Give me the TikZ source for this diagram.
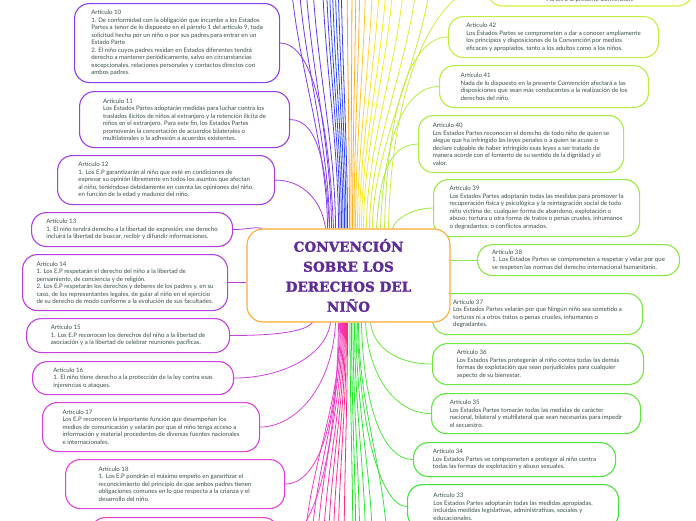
\documentclass[tikz,border=0pt]{standalone}
\usepackage{fontspec}
\newfontfamily\artfont{Lato}
\newfontfamily\titlefont{DejaVu Serif}[BoldFeatures={FakeBold=1.6}]
\usetikzlibrary{calc}

\definecolor{txt}{HTML}{3A5048}
\definecolor{ttl}{HTML}{5E2B97}
\definecolor{ctrline}{HTML}{FFAA33}
% left branch
\definecolor{c10}{HTML}{8A3FF2}
\definecolor{c11}{HTML}{9B3FEA}
\definecolor{c12}{HTML}{A63FE6}
\definecolor{c13}{HTML}{B040E6}
\definecolor{c14}{HTML}{B740E4}
\definecolor{c15}{HTML}{C440E2}
\definecolor{c16}{HTML}{CE40E0}
\definecolor{c17}{HTML}{DC40DC}
\definecolor{c18}{HTML}{E840D6}
\definecolor{c19}{HTML}{EE40CC}
% right branch
\definecolor{c43}{HTML}{CFF03A}
\definecolor{c42}{HTML}{C2EE40}
\definecolor{c41}{HTML}{B4EE40}
\definecolor{c40}{HTML}{A8EC40}
\definecolor{c39}{HTML}{98EA40}
\definecolor{c38}{HTML}{8AE840}
\definecolor{c37}{HTML}{7AE840}
\definecolor{c36}{HTML}{6CE840}
\definecolor{c35}{HTML}{5CE83C}
\definecolor{c34}{HTML}{4CE63C}
\definecolor{c33}{HTML}{40E43C}

\pgfdeclarelayer{bg}
\pgfsetlayers{bg,main}

\begin{document}
\begin{tikzpicture}[x=1pt, y=-1pt,
    art/.style={draw, fill=white, line width=1.1pt, rounded corners=15pt, anchor=north west, align=left, text=txt, font=\artfont\fontsize{6.1}{7.5}\selectfont},
    lk/.style={line width=0.8pt},
    title/.style={draw=ctrline, fill=white, line width=1.1pt, rounded corners=16pt, minimum width=203pt, minimum height=93pt, align=center, text=ttl, font=\titlefont\bfseries\fontsize{13.6}{20}\selectfont}
]
    \useasboundingbox (0,0) rectangle (696,520);
    \clip (0,0) rectangle (696,520);

    % Left side
    \node[art, draw=c10, minimum width=205pt, minimum height=79pt] (a10) at (74,3) {Artículo 10\\1. De conformidad con la obligación que incumbe a los Estados\\Partes a tenor de lo dispuesto en el párrafo 1 del artículo 9, toda\\solicitud hecha por un niño o por sus padres para entrar en un\\Estado Parte\\2. El niño cuyos padres residan en Estados diferentes tendrá\\derecho a mantener periódicamente, salvo en circunstancias\\excepcionales, relaciones personales y contactos directos con\\ambos padres.};
    \node[art, draw=c11, minimum width=210pt, minimum height=56pt] (a11) at (79,91) {Artículo 11\\Los Estados Partes adoptarán medidas para luchar contra los\\traslados ilícitos de niños al extranjero y la retención ilícita de\\niños en el extranjero. Para este fin, los Estados Partes\\promoverán la concertación de acuerdos bilaterales o\\multilaterales o la adhesión a acuerdos existentes.};
    \node[art, draw=c12, minimum width=217pt, minimum height=49pt] (a12) at (57,155) {Artículo 12\\1. Los E.P garantizarán al niño que esté en condiciones de\\expresar su opinión libremente en todos los asuntos que afectan\\al niño, teniéndose debidamente en cuenta las opiniones del niño,\\en función de la edad y madurez del niño.};
    \node[art, draw=c13, minimum width=201pt, minimum height=34pt] (a13) at (31,212) {Artículo 13\\1. El niño tendrá derecho a la libertad de expresión; ese derecho\\incluirá la libertad de buscar, recibir y difundir informaciones.};
    \node[art, draw=c14, minimum width=205pt, minimum height=56pt] (a14) at (22,254) {Artículo 14\\1. Los E.P respetarán el derecho del niño a la libertad de\\pensamiento, de conciencia y de religión.\\2. Los E.P respetarán los derechos y deberes de los padres y, en su\\caso, de los representantes legales, de guiar al niño en el ejercicio\\de su derecho de modo conforme a la evolución de sus facultades.};
    \node[art, draw=c15, minimum width=203pt, minimum height=34pt] (a15) at (26,318) {Artículo 15\\1. Los E.P reconocen los derechos del niño a la libertad de\\asociación y a la libertad de celebrar reuniones pacíficas.};
    \node[art, draw=c16, minimum width=201pt, minimum height=33pt] (a16) at (32,361) {Artículo 16\\1. El niño tiene derecho a la protección de la ley contra esas\\injerencias o ataques.};
    \node[art, draw=c17, minimum width=217pt, minimum height=49pt] (a17) at (42,402) {Artículo 17\\Los E.P reconocen la importante función que desempeñan los\\medios de comunicación y velarán por que el niño tenga acceso a\\información y material procedentes de diversas fuentes nacionales\\e internacionales.};
    \node[art, draw=c18, minimum width=219pt, minimum height=49pt] (a18) at (65,459) {Artículo 18\\1. Los E.P pondrán el máximo empeño en garantizar el\\reconocimiento del principio de que ambos padres tienen\\obligaciones comunes en lo que respecta a la crianza y el\\desarrollo del niño.};
    \node[art, draw=c19, minimum width=188pt, minimum height=50pt] (a19) at (90,517) {};

    % Right side
    \node[art, draw=c43, minimum width=205pt] (a43) at (487,-37) {\strut\\[22pt]Partes a la presente Convención.};
    \node[art, draw=c42, minimum width=210pt, minimum height=41pt] (a42) at (448,16) {Artículo 42\\Los Estados Partes se comprometen a dar a conocer ampliamente\\los principios y disposiciones de la Convención por medios\\eficaces y apropiados, tanto a los adultos como a los niños.};
    \node[art, draw=c41, minimum width=209pt, minimum height=42pt] (a41) at (439,65) {Artículo 41\\Nada de lo dispuesto en la presente Convención afectará a las\\disposiciones que sean más conducentes a la realización de los\\derechos del niño.};
    \node[art, draw=c40, minimum width=205pt, minimum height=57pt] (a40) at (418,115) {Artículo 40\\Los Estados Partes reconocen el derecho de todo niño de quien se\\alegue que ha infringido las leyes penales o a quien se acuse o\\declare culpable de haber infringido esas leyes a ser tratado de\\manera acorde con el fomento de su sentido de la dignidad y el\\valor.};
    \node[art, draw=c39, minimum width=206pt, minimum height=57pt] (a39) at (433,179) {Artículo 39\\Los Estados Partes adoptarán todas las medidas para promover la\\recuperación física y psicológica y la reintegración social de todo\\niño víctima de: cualquier forma de abandono, explotación o\\abuso; tortura u otra forma de tratos o penas crueles, inhumanos\\o degradantes; o conflictos armados.};
    \node[art, draw=c38, minimum width=202pt, minimum height=31pt] (a38) at (477,244) {Artículo 38\\1. Los Estados Partes se comprometen a respetar y velar por que\\se respeten las normas del derecho internacional humanitario.};
    \node[art, draw=c37, minimum width=210pt, minimum height=41pt] (a37) at (432,293) {Artículo 37\\Los Estados Partes velarán por que Ningún niño sea sometido a\\torturas ni a otros tratos o penas crueles, inhumanos o\\degradantes.};
    \node[art, draw=c36, minimum width=211pt, minimum height=41pt] (a36) at (432,343) {Artículo 36\\Los Estados Partes protegerán al niño contra todas las demás\\formas de explotación que sean perjudiciales para cualquier\\aspecto de su bienestar.};
    \node[art, draw=c35, minimum width=209pt, minimum height=40pt] (a35) at (431,393) {Artículo 35\\Los Estados Partes tomarán todas las medidas de carácter\\nacional, bilateral y multilateral que sean necesarias para impedir\\el secuestro.};
    \node[art, draw=c34, minimum width=202pt, minimum height=34pt] (a34) at (413,442) {Artículo 34\\Los Estados Partes se comprometen a proteger al niño contra\\todas las formas de explotación y abuso sexuales.};
    \node[art, draw=c33, minimum width=211pt, minimum height=44pt] (a33) at (407,484) {Artículo 33\\Los Estados Partes adoptarán todas las medidas apropiadas,\\incluidas medidas legislativas, administrativas, sociales y\\educacionales.};

    % Central topic
    \node[title] (ctr) at (348.5,275.5) {CONVENCIÓN\\SOBRE LOS\\DERECHOS DEL\\NIÑO};

    % Connectors
    \begin{pgfonlayer}{bg}
    \begin{scope}
    \clip (0,0) rectangle (696,520);
    \fill[white] (0,0) rectangle (696,520);

    % branches leaving the picture upwards
    \foreach \s/\e/\h [count=\i] in {-21/290/7B3BF0, -19/298/723CF2, -17/305/6A3DF4, -13/312/5F3EF6,
        -10/322/4B40F8, -8.5/326/3C42FA, -7/329/3046FA, -5.5/332/2A48FA, -4/335/2848F6, -2.5/338/2D44F2, -1/341/3340EE,
        1/347/FF9A1F, 2.5/352/FFA41F, 4/356/FFAE1F, 5.5/360/FFB81F,
        7/366/FFC81F, 9/373/FFD81F, 11/380/FFE41F, 13/387/FCEC1F, 15/394/F2F020,
        18/405/E4F026, 21/418/DAF02C, 24/432/D0F032}{
        \definecolor{fan}{HTML}{\h}
        \coordinate (up\i) at (\e,-45);
        \draw[lk, fan] ($(ctr.north)+(\s,0)$) .. controls +(0,-90) and +(0,90) .. (up\i);
    }
    % branches leaving the picture downwards
    \foreach \s/\e/\h [count=\i] in {-8/304/EE3FC6, -7/311/F13CBC, -6/317/F439B2, -5/323/F736A8,
        -4/328/F9339C, -3/333/FB3090, -2/338/FD2D86, -1/344/FF2A7C,
        1.5/353/1EE21E, 3/356/22E424, 4.5/360/26E62A, 6/366/2AE630, 7.5/373/2EE836, 10/388/34E83C}{
        \definecolor{fan}{HTML}{\h}
        \coordinate (dn\i) at (\e,565);
        \draw[lk, fan] ($(ctr.south)+(\s,0)$) .. controls +(0,90) and +(0,-90) .. (dn\i);
    }

    % left articles
    \draw[lk, c10] ($(ctr.north)+(-15,0)$) .. controls +(-4,-95) and +(35,0) .. (a10.east);
    \draw[lk, c11] ($(ctr.north)+(-19,0)$) .. controls +(-3,-55) and +(30,0) .. (a11.east);
    \draw[lk, c12] ($(ctr.north)+(-23,0)$) .. controls +(-3,-25) and +(30,0) .. (a12.east);
    \draw[lk, c13] (a13.east) .. controls +(15,0) and +(-8,-2) .. ($(ctr.north west)+(16,0)$);
    \draw[lk, c14] (a14.east) -- (a14.east -| ctr.west);
    \draw[lk, c15] ($(ctr.south)+(-36,0)$) .. controls +(-8,10) and +(40,0) .. (a15.east);
    \draw[lk, c16] ($(ctr.south)+(-18,0)$) .. controls +(-5,35) and +(45,0) .. (a16.east);
    \draw[lk, c17] ($(ctr.south)+(-13,0)$) .. controls +(-3,65) and +(35,0) .. (a17.east);
    \draw[lk, c18] ($(ctr.south)+(-9,0)$) .. controls +(-2,110) and +(30,0) .. (a18.east);
    \draw[lk, c19] ($(ctr.south)+(-10,0)$) .. controls +(-2,150) and +(30,0) .. (a19.east);

    % right articles
    \draw[lk, c43] ($(ctr.north)+(40,0)$) .. controls +(3,-170) and +(-40,0) .. (a43.west);
    \draw[lk, c42] ($(ctr.north)+(36,0)$) .. controls +(3,-130) and +(-35,0) .. (a42.west);
    \draw[lk, c41] ($(ctr.north)+(32,0)$) .. controls +(3,-90) and +(-35,0) .. (a41.west);
    \draw[lk, c40] ($(ctr.north)+(28,0)$) .. controls +(3,-50) and +(-30,0) .. (a40.west);
    \draw[lk, c39] ($(ctr.north)+(44,0)$) .. controls +(3,-10) and +(-20,0) .. (a39.west);
    \draw[lk, c38] (a38.west -| ctr.east) -- (a38.west);
    \draw[lk, c37] (a37.west -| ctr.east) -- (a37.west);
    \draw[lk, c36] ($(ctr.south)+(22,0)$) .. controls +(3,25) and +(-35,0) .. (a36.west);
    \draw[lk, c35] ($(ctr.south)+(17,0)$) .. controls +(3,55) and +(-35,0) .. (a35.west);
    \draw[lk, c34] ($(ctr.south)+(13,0)$) .. controls +(2,85) and +(-30,0) .. (a34.west);
    \draw[lk, c33] ($(ctr.south)+(9,0)$) .. controls +(2,110) and +(-25,0) .. (a33.west);
    \end{scope}
    \end{pgfonlayer}
\end{tikzpicture}
\end{document}
